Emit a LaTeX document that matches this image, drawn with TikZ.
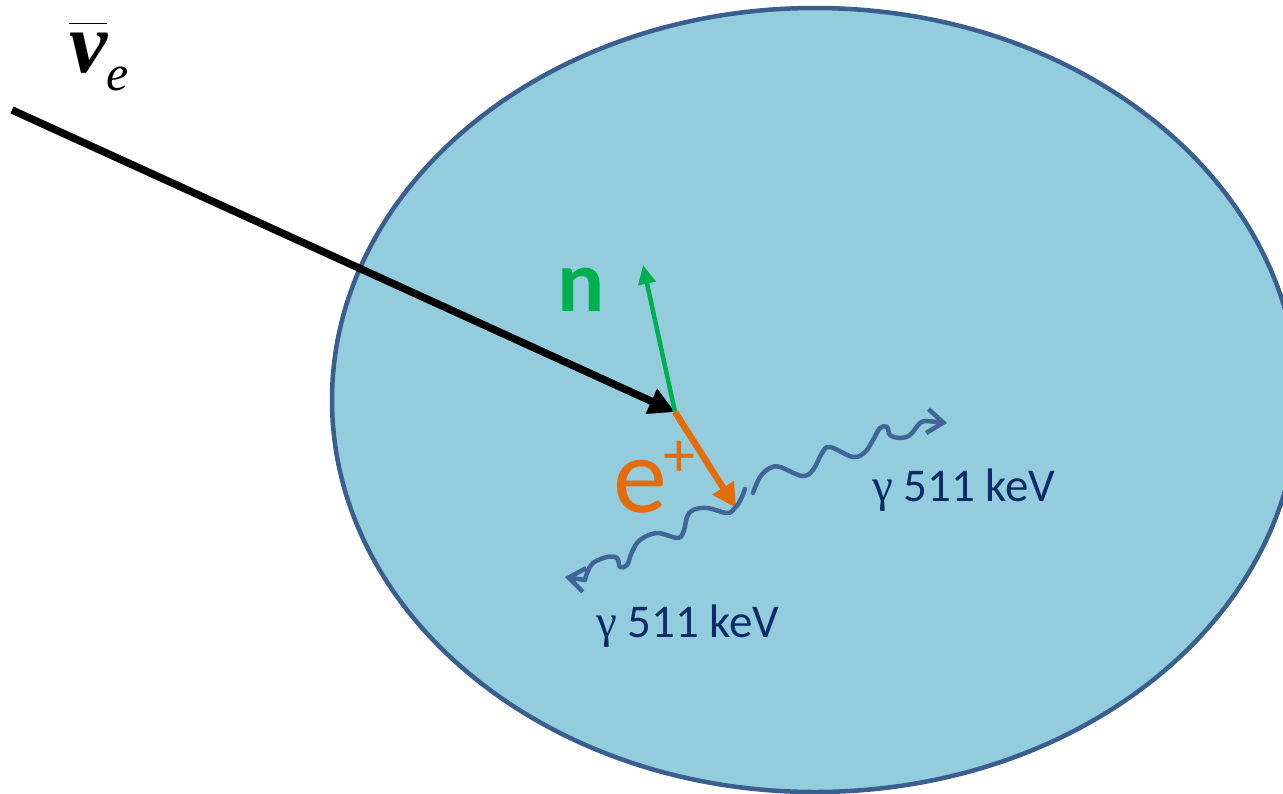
\documentclass[tikz,border=0pt]{standalone}
\usepackage{fontspec}
\setmainfont{Carlito}
\newfontfamily\tnr{Liberation Serif}
\usetikzlibrary{arrows.meta,calc}
\definecolor{fillblue}{HTML}{93CDDD}
\definecolor{edgeblue}{HTML}{3A5E8E}
\definecolor{wave}{HTML}{3F6696}
\definecolor{navy}{HTML}{0D2B68}
\definecolor{ngreen}{HTML}{00B050}
\definecolor{eorange}{HTML}{E46C0A}
\tikzset{
  photon/.style={wave, line width=4.5pt, line join=round, line cap=round},
  barb/.style={wave, line width=4.5pt, -{Straight Barb[length=16pt,width=24pt,line width=4.5pt]}},
  gtext/.style={text=navy, font=\fontsize{47}{54}\selectfont, inner sep=0pt},
}
\begin{document}
\begin{tikzpicture}[x=1pt,y=-1pt]
\useasboundingbox (0,0) rectangle (1283,793);
\clip (0,0) rectangle (1283,793);
\fill[white] (0,0) rectangle (1283,793);
% detector volume
\draw[fill=fillblue, draw=edgeblue, line width=4.5pt] (815pt,-400pt) ellipse [x radius=483pt, y radius=392pt];
% points
\coordinate (v) at (675,412);
\coordinate (nstart) at (12,110);
\coordinate (ntip) at (643,265);
\coordinate (etip) at (736,508);
\coordinate (g1last) at (585,580);
\coordinate (g1end) at (565,577);
\coordinate (g2last) at (927,421);
\coordinate (g2end) at (947,423);
% neutrino
\draw[line width=7.5pt, -{Triangle[length=26pt,width=26pt]}] (nstart) -- (v);
% neutron
\draw[ngreen, line width=4.5pt, -{Triangle[length=19pt,width=17pt]}] (v) -- (ntip);
% positron
\draw[eorange, line width=6.5pt, -{Triangle[length=24pt,width=24pt]}] (v) -- (etip);
% photons
\draw[photon] plot[smooth, tension=0.6] coordinates {(745,489) (740,501) (734,509) (727,513) (707,508) (693,510) (687,517) (684,530) (678,538) (657,533) (640,540) (632,552) (627,565) (620,567) (617,558) (607,557) (593,563) (587,573) (585,580)};
\draw[barb] (g1last) -- (g1end);
\draw[photon] plot[smooth, tension=0.6] coordinates {(753,493) (760,477) (770,468) (780,467) (802,476) (813,470) (822,453) (830,447) (853,457) (865,452) (873,440) (880,428) (887,427) (890,435) (900,438) (910,435) (920,423) (927,421)};
\draw[barb] (g2last) -- (g2end);
% labels
\node[ngreen, font=\fontsize{88}{96}\selectfont\bfseries, inner sep=0pt] (nlab) at (581,290) {n};
\node[eorange, font=\fontsize{108}{116}\selectfont, inner sep=0pt, anchor=base west] (elab) at (613,512) {e\hspace{-3pt}\raisebox{36pt}{\fontsize{64}{70}\selectfont+}};
\node[gtext, anchor=base west] (g2lab) at (872,501) {{\tnr γ} 511 keV};
\node[gtext, anchor=base west] (g1lab) at (596,637) {{\tnr γ} 511 keV};
\node[inner sep=0pt, anchor=base west] (nulab) at (69,72) {\tnr\fontsize{86}{90}\selectfont$\overline{\rule{0pt}{47pt}\hbox{\bfseries\itshape ν}}$\hspace{-1pt}\raisebox{-18pt}{\itshape\fontsize{50}{54}\selectfont e}};
\end{tikzpicture}
\end{document}
